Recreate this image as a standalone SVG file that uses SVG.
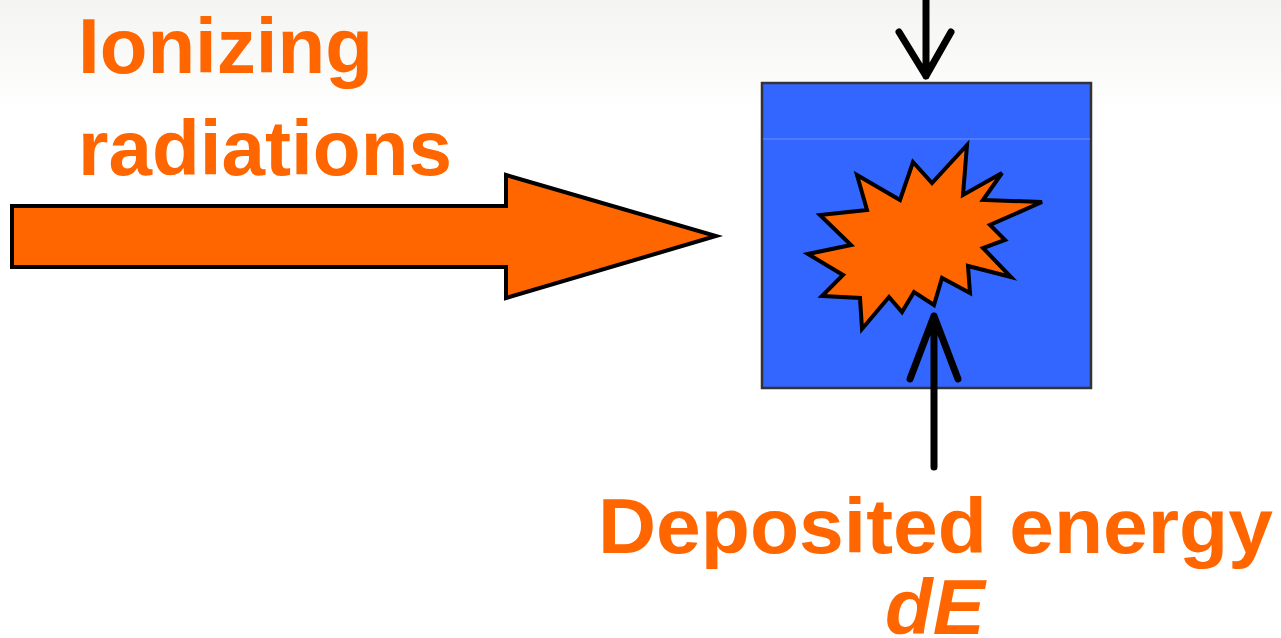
<svg xmlns="http://www.w3.org/2000/svg" width="1281" height="638" viewBox="0 0 1281 638">
  <defs>
    <linearGradient id="bg" x1="0" y1="0" x2="0" y2="1">
      <stop offset="0" stop-color="#f4f4f2"/>
      <stop offset="0.18" stop-color="#ffffff"/>
      <stop offset="1" stop-color="#ffffff"/>
    </linearGradient>
  </defs>
  <style>
    .lbl { font-family: "Liberation Sans", Arial, sans-serif; font-weight: bold; fill: #ff6600; }
    .orange { fill: #ff6600; stroke: #000; stroke-width: 4; stroke-linejoin: miter; }
    .conn { fill: none; stroke: #000; stroke-width: 7; stroke-linecap: round; stroke-linejoin: round; }
  </style>
  <rect x="0" y="0" width="1281" height="638" fill="url(#bg)"/>

  <g id="radiation-label">
    <text class="lbl" x="78" y="73" font-size="78" textLength="295" lengthAdjust="spacingAndGlyphs">Ionizing</text>
    <text class="lbl" x="78" y="175" font-size="78" textLength="374" lengthAdjust="spacingAndGlyphs">radiations</text>
  </g>

  <g id="radiation-arrow">
    <path class="orange" d="M12,206 H506 V175 L716,236 L506,298 V267 H12 Z"/>
  </g>

  <g id="material">
    <rect x="762" y="83" width="329" height="305" fill="#3366ff" stroke="#333" stroke-width="2.5"/>
    <line x1="763" y1="139" x2="1090" y2="139" stroke="#6a8fff" stroke-width="1"/>
  </g>

  <g id="burst">
    <path class="orange" stroke-width="5" d="M967,145 L963,195 L1002,173 L983,200 L1042,202 L990,225 L1005,240 L983,248 L1011,277 L968,266 L970,293 L942,278 L934,305 L914,292 L902,312 L889,297 L862,329 L860,298 L822,296 L843,275 L808,254 L851,245 L820,215 L867,210 L857,175 L900,200 L913,162 L932,183 Z"/>
  </g>

  <g id="connectors">
    <path class="conn" d="M926,0 V76 M899,32 L926,76 L951,32"/>
    <path class="conn" d="M934,467 V316 M910,379 L934,316 L958,379"/>
  </g>

  <g id="energy-label">
    <text class="lbl" x="598" y="553" font-size="78" textLength="675" lengthAdjust="spacingAndGlyphs">Deposited energy</text>
    <text class="lbl" x="885" y="634" font-size="78" font-style="italic">dE</text>
  </g>
</svg>
